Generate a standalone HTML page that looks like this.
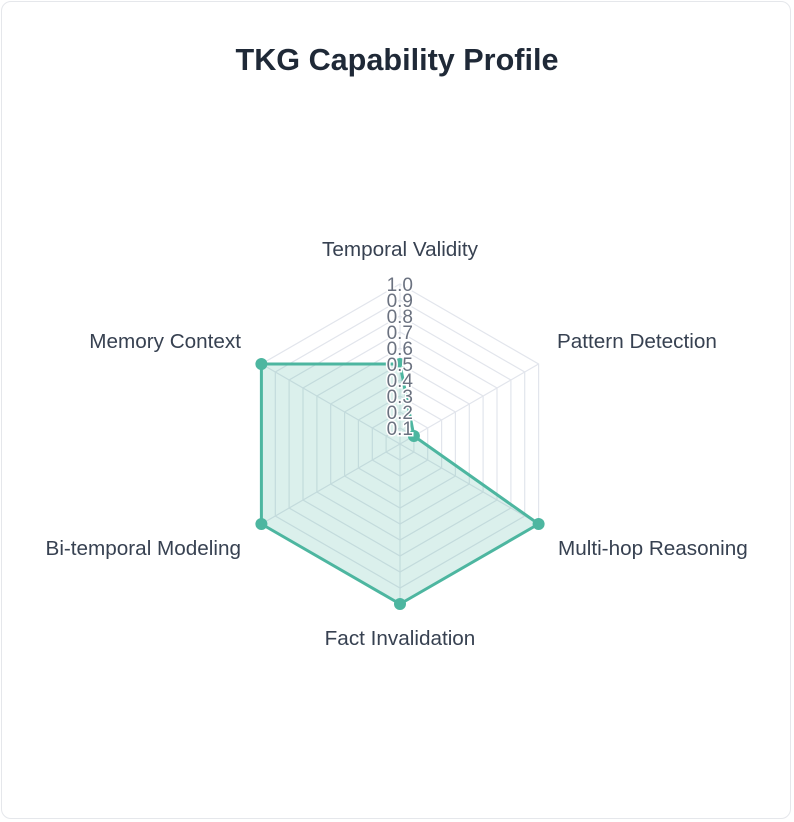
<!DOCTYPE html>
<html><head><style>
body{margin:0;background:#fff;width:794px;height:822px;overflow:hidden;font-family:"Liberation Sans",sans-serif}
.card{position:absolute;left:1px;top:1px;width:790px;height:818px;border:1px solid #e5e7eb;border-radius:10px;box-sizing:border-box}
</style></head><body>
<div class="card"></div>
<svg width="794" height="822" style="position:absolute;left:0;top:0" font-family="Liberation Sans, sans-serif">
<text x="397" y="70" text-anchor="middle" font-size="30.6" font-weight="bold" fill="#1f2937">TKG Capability Profile</text>
<g id="grid" fill="none" stroke="#e2e5ec" stroke-width="1.2">
</g>
<polygon points="400,364 413.9,436 538.6,524 400,604 261.4,524 261.4,364" fill="rgba(77,182,160,0.2)" stroke="#4db6a0" stroke-width="3" stroke-linejoin="round"/>
<g fill="#4db6a0">
<circle cx="400" cy="364" r="6"/><circle cx="413.9" cy="436" r="6"/><circle cx="538.6" cy="524" r="6"/>
<circle cx="400" cy="604" r="6"/><circle cx="261.4" cy="524" r="6"/><circle cx="261.4" cy="364" r="6"/>
</g>
<g id="ticks" font-size="19" fill="#6b7280" text-anchor="end" stroke="#fff" stroke-width="3" paint-order="stroke"></g>
<g font-size="20.7" fill="#374151">
<text x="400" y="256" text-anchor="middle">Temporal Validity</text>
<text x="557" y="348">Pattern Detection</text>
<text x="558" y="555">Multi-hop Reasoning</text>
<text x="400" y="645" text-anchor="middle">Fact Invalidation</text>
<text x="241" y="555" text-anchor="end">Bi-temporal Modeling</text>
<text x="241" y="348" text-anchor="end">Memory Context</text>
</g>
</svg>
<script>
const g=document.getElementById('grid'),t=document.getElementById('ticks'),ns='http://www.w3.org/2000/svg';
const cx=400,cy=444,R=160;
for(let i=1;i<=10;i++){const r=R*i/10;let p=[];for(let k=0;k<6;k++){const a=(-90+60*k)*Math.PI/180;p.push((cx+r*Math.cos(a)).toFixed(1)+','+(cy+r*Math.sin(a)).toFixed(1));}
const e=document.createElementNS(ns,'polygon');e.setAttribute('points',p.join(' '));g.appendChild(e);
const tx=document.createElementNS(ns,'text');tx.setAttribute('x',413);tx.setAttribute('y',cy-r+7);tx.textContent=(i/10).toFixed(1);t.appendChild(tx);}
for(let k=0;k<6;k++){const a=(-90+60*k)*Math.PI/180;const l=document.createElementNS(ns,'line');l.setAttribute('x1',cx);l.setAttribute('y1',cy);l.setAttribute('x2',cx+R*Math.cos(a));l.setAttribute('y2',cy+R*Math.sin(a));g.appendChild(l);}
</script>
</body></html>
